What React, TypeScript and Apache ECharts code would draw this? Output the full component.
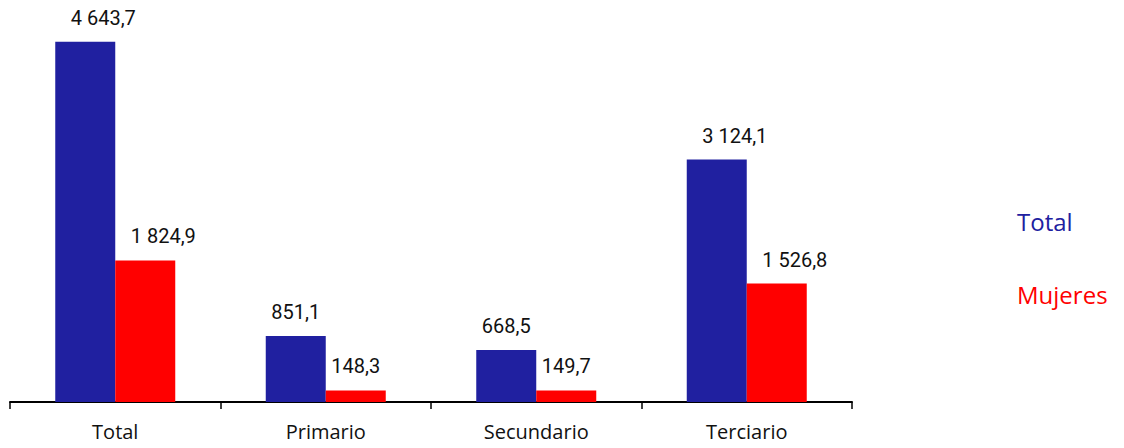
import React, { useEffect, useRef } from "react";
import * as echarts from "echarts";

const categories = ["Total", "Primario", "Secundario", "Terciario"];
const totalValues = [4643.7, 851.1, 668.5, 3124.1];
const mujeresValues = [1824.9, 148.3, 149.7, 1526.8];
const seriesNames = ["Total", "Mujeres"];

const BLUE = "#2020A0";
const RED = "#FF0000";

function fmt(v: number): string {
  const parts = v.toFixed(1).split(".");
  const intPart = parts[0].replace(/\B(?=(\d{3})+(?!\d))/g, " ");
  return intPart + "," + parts[1];
}

function withLabels(values: number[]) {
  return values.map((v) => ({
    value: v,
    label: { offset: v >= 1000 ? [18, 0] : [0, 0] },
  }));
}

export default function App() {
  const ref = useRef<HTMLDivElement>(null);
  useEffect(() => {
    if (!ref.current) return;
    const chart = echarts.init(ref.current, null, { renderer: "svg" });
    const labelCfg = {
      show: true,
      position: "top",
      distance: 14,
      fontFamily: "Roboto",
      fontSize: 20,
      color: "#111",
      formatter: (p: any) => fmt(p.value),
    };
    chart.setOption({
      animation: false,
      backgroundColor: "#fff",
      grid: { left: 10, right: 272, top: 14, bottom: 46, containLabel: false },
      legend: {
        orient: "vertical",
        left: 1002,
        top: 201,
        icon: "none",
        itemWidth: 5,
        itemGap: 43,
        selectedMode: false,
        textStyle: { fontFamily: "Open Sans", fontSize: 24, lineHeight: 30 },
        data: [
          { name: seriesNames[0], textStyle: { color: BLUE } },
          { name: seriesNames[1], textStyle: { color: RED } },
        ],
      },
      xAxis: {
        type: "category",
        data: categories,
        boundaryGap: true,
        axisLine: { lineStyle: { color: "#000", width: 2 } },
        axisTick: { show: true, length: 7, lineStyle: { color: "#000", width: 1.5 } },
        axisLabel: {
          margin: 19,
          fontFamily: "Open Sans",
          fontSize: 20,
          color: "#111",
        },
      },
      yAxis: {
        type: "value",
        min: 0,
        max: 5000,
        show: false,
        splitLine: { show: false },
      },
      series: [
        {
          name: seriesNames[0],
          type: "bar",
          data: withLabels(totalValues),
          barWidth: 60,
          barGap: "0%",
          itemStyle: { color: BLUE },
          label: labelCfg,
        },
        {
          name: seriesNames[1],
          type: "bar",
          data: withLabels(mujeresValues),
          barWidth: 60,
          barGap: "0%",
          itemStyle: { color: RED },
          label: labelCfg,
        },
      ],
    });
    return () => chart.dispose();
  }, []);
  return <div ref={ref} style={{ width: 1124, height: 448, margin: -8 }} />;
}
